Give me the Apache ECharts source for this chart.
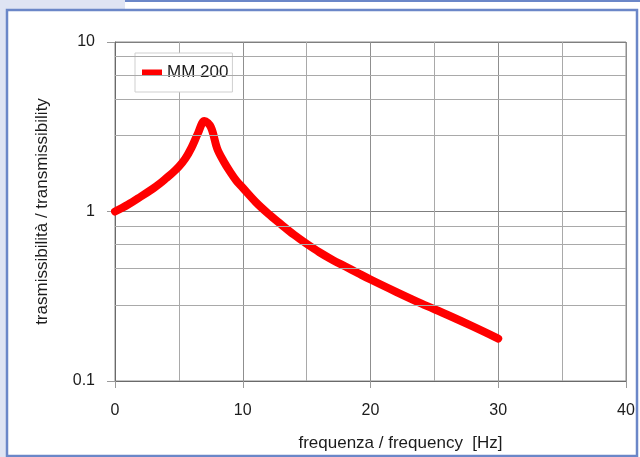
<!DOCTYPE html>
<html>
<head>
<meta charset="utf-8">
<script src="https://cdn.jsdelivr.net/npm/echarts@6/dist/echarts.min.js"></script>
<style>
  html, body { margin: 0; padding: 0; background: #ffffff; }
  #chart { width: 640px; height: 457px; }
</style>
</head>
<body>
<div id="chart"></div>
<script>
// Transmissibility of the MM 200 mount versus excitation frequency
const seriesName = 'MM 200';
const frequency = [0, 1, 2, 3, 3.5, 4, 4.5, 5, 5.5, 6, 6.5, 7, 7.5, 8, 8.5, 9, 9.5, 10, 11, 12, 13, 14, 15, 16, 17, 18, 19, 20, 22, 24, 26, 28, 30];
const transmissibility = [1.0, 1.096, 1.222, 1.37, 1.46, 1.57, 1.69, 1.84, 2.05, 2.39, 2.9, 3.42, 3.15, 2.35, 1.98, 1.72, 1.52, 1.38, 1.14, 0.97, 0.84, 0.73, 0.645, 0.575, 0.52, 0.475, 0.434, 0.397, 0.336, 0.286, 0.246, 0.21, 0.178];
// secondary horizontal gridlines inside each decade
const yMinorGrid = [8.2, 6.4, 4.6, 2.8, 0.82, 0.64, 0.46, 0.28];
const xTicks = { min: 0, max: 40, step: 10 };
const yRange = { min: 0.1, max: 10 };

const textColor = '#1c1c1c';
const font = 'Liberation Sans, Arial, sans-serif';
const frameBlue = '#6b87c8';

const chart = echarts.init(document.getElementById('chart'), null, { renderer: 'canvas' });

const points = frequency.map((f, i) => [f, transmissibility[i]]);

chart.setOption({
  animation: false,
  backgroundColor: '#ffffff',
  textStyle: { fontFamily: font, color: textColor },
  graphic: [
    // tinted strip at the left and top-left of the panel
    { type: 'rect', shape: { x: 0, y: 0, width: 6, height: 457 }, style: { fill: '#dfe4f3' }, silent: true },
    { type: 'rect', shape: { x: 0, y: 0, width: 125, height: 9 }, style: { fill: '#dfe4f3' }, silent: true },
    // panel frame
    { type: 'line', shape: { x1: 125, y1: 1, x2: 640, y2: 1 }, style: { stroke: frameBlue, lineWidth: 2 }, silent: true },
    { type: 'rect', shape: { x: 7, y: 10, width: 630, height: 446 }, style: { fill: 'none', stroke: frameBlue, lineWidth: 2.5 }, silent: true }
  ],
  grid: { left: 115, top: 42, width: 511, height: 340, show: true, borderColor: '#8a8a8a', borderWidth: 1, backgroundColor: 'transparent' },
  legend: {
    left: 135, top: 53,
    backgroundColor: '#ffffff',
    borderColor: '#cfcfcf', borderWidth: 1,
    padding: [11, 4, 11, 7],
    itemWidth: 20, itemHeight: 6, itemGap: 5,
    icon: 'rect',
    textStyle: { fontSize: 17, color: textColor, fontFamily: font },
    data: [seriesName]
  },
  xAxis: {
    type: 'value',
    min: xTicks.min, max: xTicks.max, interval: xTicks.step,
    name: 'frequenza / frequency  [Hz]',
    nameLocation: 'middle', nameGap: 54,
    nameTextStyle: { fontSize: 17, color: textColor, fontFamily: font, verticalAlign: 'top', padding: [0, 0, 0, 60] },
    axisLine: { show: true, lineStyle: { color: '#6a6a6a', width: 1 } },
    axisTick: { show: true, length: 7, lineStyle: { color: '#9a9a9a' } },
    axisLabel: { fontSize: 16, color: textColor, margin: 22, fontFamily: font },
    splitLine: { show: true, lineStyle: { color: '#8f8f8f', width: 1 } },
    minorTick: { show: false, splitNumber: 2 },
    minorSplitLine: { show: true, lineStyle: { color: '#a9a9a9', width: 1 } }
  },
  yAxis: {
    type: 'log', logBase: 10,
    min: yRange.min, max: yRange.max,
    name: 'trasmissibilità / transmissibility',
    nameLocation: 'middle', nameGap: 64,
    nameTextStyle: { fontSize: 17, color: textColor, fontFamily: font },
    axisLine: { show: true, lineStyle: { color: '#6a6a6a', width: 1 } },
    axisTick: { show: true, length: 8, lineStyle: { color: '#9a9a9a' } },
    axisLabel: {
      fontSize: 16, color: textColor, margin: 20, fontFamily: font,
      formatter: v => String(Number(v.toPrecision(3)))
    },
    splitLine: { show: true, lineStyle: { color: '#7f7f7f', width: 1 } }
  },
  series: [
    {
      // carrier series for the in-decade gridlines, kept beneath the curve
      type: 'line', name: 'grid', data: [], z: 1, silent: true,
      markLine: {
        silent: true, symbol: 'none', animation: false,
        label: { show: false },
        lineStyle: { color: '#a9a9a9', width: 1, type: 'solid' },
        emphasis: { disabled: true },
        data: yMinorGrid.map(v => ({ yAxis: v }))
      }
    },
    {
      type: 'line', name: seriesName, data: points, z: 3,
      smooth: 0.35, showSymbol: false, symbol: 'none',
      color: '#ff0000',
      lineStyle: { color: '#ff0000', width: 8, cap: 'round', join: 'round' }
    }
  ]
});
</script>
</body>
</html>
